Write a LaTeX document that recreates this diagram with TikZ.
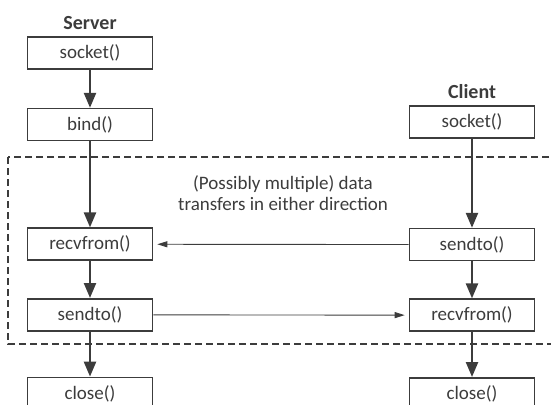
\documentclass[tikz,border=0pt]{standalone}
\usepackage{fontspec}
\setmainfont{Carlito}
\usetikzlibrary{positioning,arrows.meta}
\definecolor{linegray}{RGB}{60,60,60}
\tikzset{
    % call boxes
    callbox/.style={
        rectangle, draw=linegray, line width=1.6pt, fill=white,
        minimum width=125pt, minimum height=32pt, inner sep=0pt,
        font=\fontsize{19}{22}\selectfont, text=linegray
    },
    sidelabel/.style={
        font=\fontsize{20}{24}\selectfont\bfseries, text=linegray
    },
    flow/.style={
        -{Triangle[length=15pt,width=12pt]}, line width=2.4pt, color=linegray
    },
    transfer/.style={
        -{Triangle[length=10pt,width=6pt]}, line width=0.9pt, color=linegray,
        shorten >=4pt
    },
    region/.style={
        draw=linegray, line width=1.3pt, dash pattern=on 7pt off 4pt
    },
    note/.style={
        align=center, font=\fontsize{19}{21}\selectfont, text=linegray
    }
}
\begin{document}
\begin{tikzpicture}[x=1pt,y=-1pt]
\useasboundingbox (0,0) rectangle (551,404);
\clip (0,0) rectangle (551,404);

% Server side
\node[callbox] (srv_socket) at (90,53) {socket()};
\node[sidelabel, above=3pt of srv_socket] (server) {Server};
\node[callbox, below=38pt of srv_socket] (srv_bind) {bind()};
\node[callbox, below=86pt of srv_bind] (srv_recv) {recvfrom()};
\node[callbox, below=37pt of srv_recv] (srv_send) {sendto()};
\node[callbox, below=45pt of srv_send] (srv_close) {close()};

% Client side
\node[callbox] (cli_socket) at (472,122) {socket()};
\node[sidelabel, above=3pt of cli_socket] (client) {Client};
\node[callbox, below=89pt of cli_socket] (cli_send) {sendto()};
\node[callbox, below=37pt of cli_send] (cli_recv) {recvfrom()};
\node[callbox, below=45pt of cli_recv] (cli_close) {close()};

% Data transfer region
\draw[region] (8,157) rectangle (570,344);
\node[note] (transfers) at (283,193) {(Possibly multiple) data\\transfers in either direction};

% Arrows
\draw[flow] (srv_socket) -- (srv_bind);
\draw[flow] (srv_bind) -- (srv_recv);
\draw[flow] (srv_recv) -- (srv_send);
\draw[flow] (srv_send) -- (srv_close);
\draw[flow] (cli_socket) -- (cli_send);
\draw[flow] (cli_send) -- (cli_recv);
\draw[flow] (cli_recv) -- (cli_close);
\draw[transfer] (cli_send) -- (srv_recv);
\draw[transfer] (srv_send) -- (cli_recv);

\end{tikzpicture}
\end{document}
